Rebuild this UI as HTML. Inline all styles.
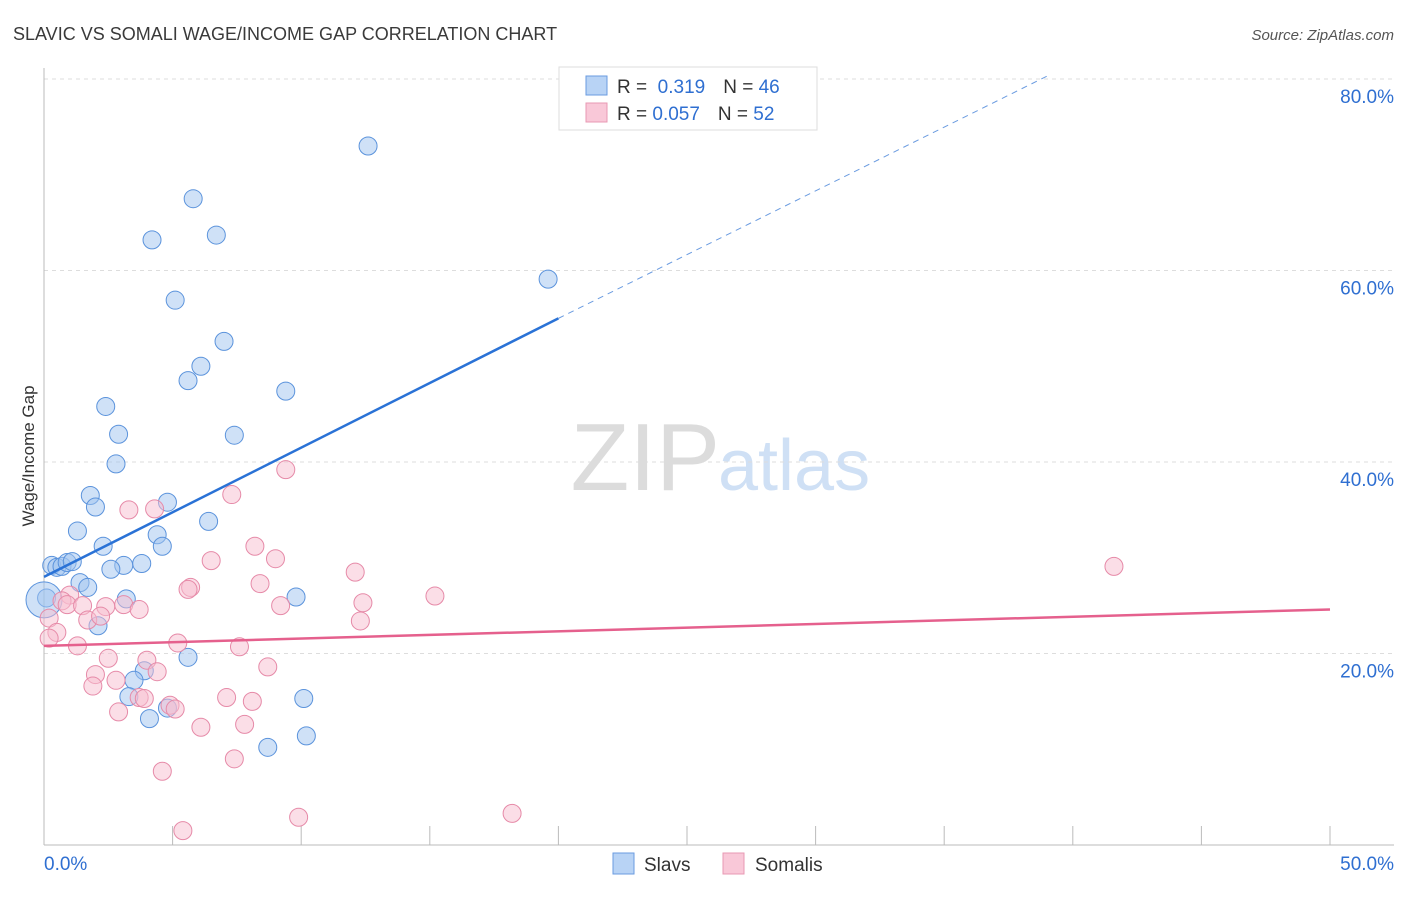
<!DOCTYPE html>
<html><head><meta charset="utf-8">
<style>
body{margin:0;background:#fff;font-family:"Liberation Sans",sans-serif;}
svg text{font-family:"Liberation Sans",sans-serif;}
</style></head>
<body>
<svg id="chart" width="1406" height="892" xmlns="http://www.w3.org/2000/svg">
<text x="13" y="40" font-size="18" fill="#3a3a3a">SLAVIC VS SOMALI WAGE/INCOME GAP CORRELATION CHART</text>
<text x="1394" y="40" font-size="15" fill="#555" text-anchor="end" font-style="italic">Source: ZipAtlas.com</text>
<text x="720" y="490" font-size="96" fill="#dcdcdc" text-anchor="end" font-family="Liberation Serif">ZIP</text>
<text x="718" y="490" font-size="72" fill="#cfe0f5">atlas</text>
<g id="grid"></g>
<g id="axes"></g>
<g id="pts"></g>
<g id="trend"></g>
<text transform="translate(34,456) rotate(-90)" font-size="17" fill="#333" text-anchor="middle">Wage/Income Gap</text>
<g>
<rect x="559" y="67" width="258" height="63" fill="#fff" stroke="#ddd"/>
<rect x="586" y="76" width="21" height="19" fill="#b8d3f5" stroke="#6a9be0"/>
<rect x="586" y="103" width="21" height="19" fill="#f9c8d8" stroke="#e899b3"/>
<text x="617" y="93" font-size="19" fill="#333">R = <tspan fill="#2f6fd1">&#160;0.319</tspan><tspan dx="18">N = </tspan><tspan fill="#2f6fd1">46</tspan></text>
<text x="617" y="120" font-size="19" fill="#333">R = <tspan fill="#2f6fd1">0.057</tspan><tspan dx="18">N = </tspan><tspan fill="#2f6fd1">52</tspan></text>
</g>
<g>
<rect x="613" y="853" width="21" height="21" fill="#b8d3f5" stroke="#6a9be0"/>
<text x="644" y="871" font-size="19" fill="#333">Slavs</text>
<rect x="723" y="853" width="21" height="21" fill="#f9c8d8" stroke="#e899b3"/>
<text x="755" y="871" font-size="19" fill="#333">Somalis</text>
</g>
</svg>
<script>
const slavsX=[12.6,5.8,4.2,6.7,5.1,19.6,7.0,6.1,5.6,9.4,2.4,2.9,7.4,2.8,1.8,2.0,4.8,6.4,1.3,4.4,2.3,4.6,0.3,0.5,0.7,0.9,1.1,3.1,3.8,2.6,1.4,1.7,0.1,9.8,3.2,2.1,5.6,3.9,3.5,3.3,10.1,4.8,4.1,10.2,8.7,0.0];
const slavsY=[73.0,67.5,63.2,63.7,56.9,59.1,52.6,50.0,48.5,47.4,45.8,42.9,42.8,39.8,36.5,35.3,35.8,33.8,32.8,32.4,31.2,31.2,29.2,29.0,29.1,29.5,29.6,29.2,29.4,28.8,27.4,26.9,25.8,25.9,25.7,22.9,19.6,18.2,17.2,15.5,15.3,14.3,13.2,11.4,10.2,25.6];
const slavsR=[9,9,9,9,9,9,9,9,9,9,9,9,9,9,9,9,9,9,9,9,9,9,9,9,9,9,9,9,9,9,9,9,9,9,9,9,9,9,9,9,9,9,9,9,9,18];
const somX=[3.3,4.3,7.3,9.4,8.2,6.5,9.0,8.4,5.7,5.6,12.1,15.2,41.6,1.0,0.7,0.9,1.5,2.4,3.1,3.7,9.2,12.4,12.3,0.2,1.7,2.2,0.5,0.2,1.3,5.2,7.6,2.5,4.0,4.4,2.0,8.7,2.8,1.9,7.1,8.1,3.7,3.9,4.9,5.1,2.9,7.8,6.1,7.4,4.6,5.4,9.9,18.2];
const somY=[35.0,35.1,36.6,39.2,31.2,29.7,29.9,27.3,26.9,26.7,28.5,26.0,29.1,26.1,25.5,25.1,25.0,24.9,25.1,24.6,25.0,25.3,23.4,23.7,23.5,23.9,22.2,21.6,20.8,21.1,20.7,19.5,19.3,18.1,17.8,18.6,17.2,16.6,15.4,15.0,15.4,15.3,14.6,14.2,13.9,12.6,12.3,9.0,7.7,1.5,2.9,3.3];
const yTicks=[20,40,60,80];
const xTickLabels=["0.0%","50.0%"];
const trendBlue=[0,28.0,20,55.0,39,80.3];
const trendPink=[0,20.8,50,24.6];
const X=v=>44+v*25.72, Y=v=>845-v*9.575;
const NS="http://www.w3.org/2000/svg";
function mk(tag,attrs,parent){const e=document.createElementNS(NS,tag);for(const k in attrs)e.setAttribute(k,attrs[k]);document.getElementById(parent).appendChild(e);return e;}
yTicks.forEach(t=>{
  const l=mk('line',{x1:44,x2:1394,y1:Y(t),y2:Y(t),stroke:'#ddd','stroke-dasharray':'4,4'},'grid');
  
  
  const tx=mk('text',{x:1394,y:Y(t)+24,'font-size':19,fill:'#2f6fd1','text-anchor':'end'},'grid');
  tx.textContent=t.toFixed(1)+'%';
  
  
});
const ax=mk('line',{x1:44,x2:1394,y1:845,y2:845,stroke:'#bbb'},'axes');


const ay=mk('line',{x1:44,x2:44,y1:68,y2:845,stroke:'#bbb'},'axes');


for(let i=0;i<=10;i++){const t=mk('line',{x1:X(i*5),x2:X(i*5),y1:826,y2:845,stroke:'#bbb'},'axes');
  
  }
[[0,'start',44],[50,'end',1394]].forEach((d,i)=>{const t=mk('text',{x:d[2],y:870,'font-size':19,fill:'#2f6fd1','text-anchor':d[1]},'axes');t.textContent=xTickLabels[i];
  
  });
slavsX.forEach((v,i)=>{const c=mk('circle',{cx:X(v),cy:Y(slavsY[i]),r:slavsR[i],fill:'rgba(160,196,240,0.5)',stroke:'#5b93dc','stroke-width':1},'pts');
  
  });
somX.forEach((v,i)=>{const c=mk('circle',{cx:X(v),cy:Y(somY[i]),r:9,fill:'rgba(248,190,208,0.5)',stroke:'#e68aa8','stroke-width':1},'pts');
  
  });
const b1=mk('line',{x1:X(trendBlue[0]),y1:Y(trendBlue[1]),x2:X(trendBlue[2]),y2:Y(trendBlue[3]),stroke:'#2a72d6','stroke-width':2.5},'trend');


const b2=mk('line',{x1:X(trendBlue[2]),y1:Y(trendBlue[3]),x2:X(trendBlue[4]),y2:Y(trendBlue[5]),stroke:'#6a9be0','stroke-width':1,'stroke-dasharray':'6,5'},'trend');


const p1=mk('line',{x1:X(trendPink[0]),y1:Y(trendPink[1]),x2:X(trendPink[2]),y2:Y(trendPink[3]),stroke:'#e5608d','stroke-width':2.5},'trend');


</script>
</body></html>
